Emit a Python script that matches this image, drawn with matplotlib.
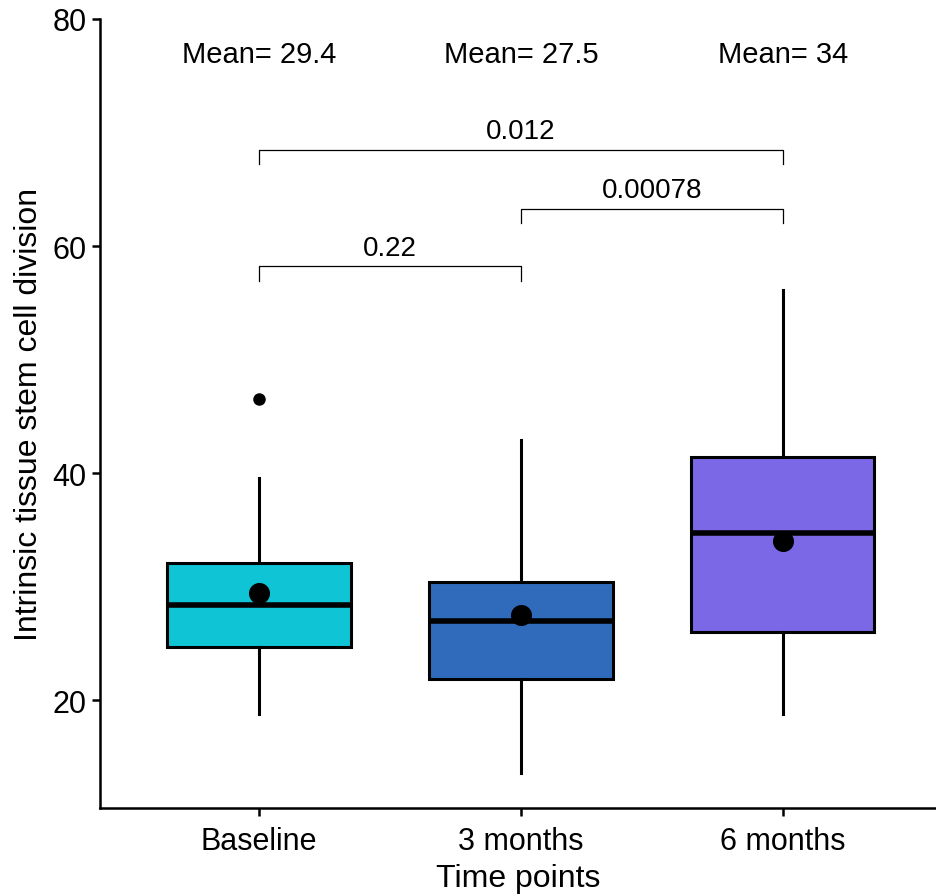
import matplotlib
matplotlib.use("Agg")
import matplotlib.pyplot as plt

plt.rcParams['font.family'] = ['Liberation Sans', 'DejaVu Sans']

# group summaries
groups = ['Baseline', '3 months', '6 months']
q1 = [24.7, 21.9, 26.0]
med = [28.4, 27.0, 34.7]
q3 = [32.1, 30.4, 41.4]
whislo = [18.8, 13.6, 18.8]
whishi = [39.6, 42.9, 56.1]
fliers = [[46.5], [], []]
means = [29.4, 27.5, 34.0]
colors = ['#0FC5D5', '#2F6BBA', '#7B68E6']

# pairwise comparisons: (i, j, y, label)
comparisons = [(0, 1, 58.2, '0.22'), (1, 2, 63.3, '0.00078'), (0, 2, 68.5, '0.012')]

fig = plt.figure(figsize=(9.36, 8.95), dpi=100)
ax = fig.add_axes([100/936, 86/895, 836/936, 789/895])

stats = []
for k in range(3):
    stats.append(dict(label=groups[k], q1=q1[k], med=med[k], q3=q3[k],
                      whislo=whislo[k], whishi=whishi[k], fliers=fliers[k]))

bp = ax.bxp(stats, positions=[1, 2, 3], widths=0.7, patch_artist=True,
            showcaps=False,
            boxprops=dict(linewidth=2.2, edgecolor='black'),
            medianprops=dict(color='black', linewidth=4),
            whiskerprops=dict(color='black', linewidth=2.2),
            flierprops=dict(marker='o', markerfacecolor='black',
                            markeredgecolor='black', markersize=8))
for patch, c in zip(bp['boxes'], colors):
    patch.set_facecolor(c)

ax.scatter([1, 2, 3], means, s=200, color='black', zorder=5)

for k in range(3):
    lbl = 'Mean= ' + ('%g' % means[k])
    ax.text(k + 1, 76.9, lbl, ha='center', va='center', fontsize=21)

for i, j, y, lbl in comparisons:
    ax.plot([i + 1, i + 1, j + 1, j + 1], [y - 1.3, y, y, y - 1.3],
            color='black', linewidth=0.9)
    ax.text((i + j) / 2 + 1, y + 0.5, lbl, ha='center', va='bottom', fontsize=20)

ax.set_xlim(0.393, 3.585)
ax.set_ylim(10.5, 80)
ax.set_yticks([20, 40, 60, 80])
ax.set_xticks([1, 2, 3])
ax.set_xticklabels(groups)
ax.tick_params(labelsize=22, width=1.8, length=6, colors='black')
ax.tick_params(axis='x', pad=7)
for s in ['top', 'right']:
    ax.spines[s].set_visible(False)
for s in ['left', 'bottom']:
    ax.spines[s].set_linewidth(1.8)

ax.set_xlabel('Time points', fontsize=23, labelpad=5)
ax.set_ylabel('Intrinsic tissue stem cell division', fontsize=23, labelpad=6)

fig.savefig('out.png', dpi=100)
